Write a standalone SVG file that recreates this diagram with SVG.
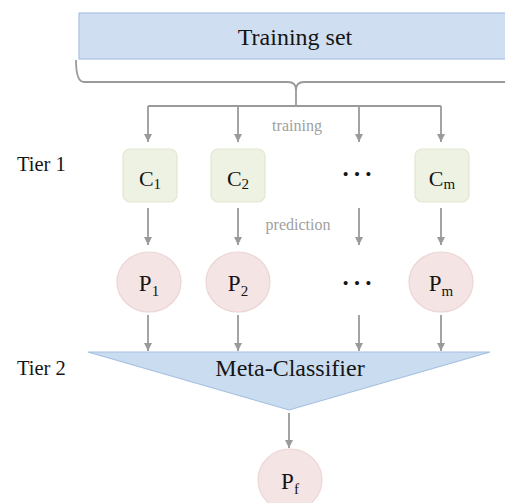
<svg xmlns="http://www.w3.org/2000/svg" width="505" height="503" viewBox="0 0 505 503">
<defs>
<marker id="ah" markerUnits="userSpaceOnUse" markerWidth="10" markerHeight="10" refX="8" refY="4" orient="auto">
<path d="M0,0 L8,4 L0,8 Z" fill="#9a9a9a"/>
</marker>
<style>
.t{font-family:"Liberation Serif","Times New Roman",serif;fill:#151515}
.g{font-family:"Liberation Serif","Times New Roman",serif;fill:#a0a0a0;font-size:16px}
.line{stroke:#9a9a9a;stroke-width:1.8;fill:none}
.arr{stroke:#9a9a9a;stroke-width:1.8;fill:none;marker-end:url(#ah)}
.cbox{fill:#eef2e3;stroke:#dfe7d0;stroke-width:1.2}
.pc{fill:#f4e4e4;stroke:#ecd5d5;stroke-width:1.2}
</style>
</defs>
<rect width="505" height="503" fill="#fff"/>

<g id="training-set">
<rect x="79" y="13" width="440" height="46" fill="#cfdff1" stroke="#a9c3e2" stroke-width="1.2"/>
<text class="t" x="295" y="45" font-size="24" text-anchor="middle">Training set</text>
</g>

<g id="tier-labels">
<text class="t" x="17" y="171" font-size="20.5">Tier 1</text>
<text class="t" x="17" y="375" font-size="20.5">Tier 2</text>
</g>

<g id="connectors">
<path class="line" d="M76,60 Q76,82 84,82 H288 Q296,82 296,90 Q296,82 304,82 H505"/>
<line class="line" x1="296" y1="88" x2="296" y2="106"/>
<line class="line" x1="148" y1="106" x2="441" y2="106"/>
<line class="arr" x1="148" y1="106" x2="148" y2="142"/>
<line class="arr" x1="238" y1="106" x2="238" y2="142"/>
<line class="arr" x1="359" y1="106" x2="359" y2="142"/>
<line class="arr" x1="441" y1="106" x2="441" y2="142"/>
<line class="arr" x1="148" y1="208" x2="148" y2="245"/>
<line class="arr" x1="238" y1="208" x2="238" y2="245"/>
<line class="arr" x1="359" y1="208" x2="359" y2="245"/>
<line class="arr" x1="441" y1="208" x2="441" y2="245"/>
<line class="arr" x1="148" y1="315" x2="148" y2="351"/>
<line class="arr" x1="238" y1="315" x2="238" y2="351"/>
<line class="arr" x1="359" y1="315" x2="359" y2="351"/>
<line class="arr" x1="441" y1="315" x2="441" y2="351"/>
<line class="arr" x1="289" y1="413" x2="289" y2="448"/>
<text class="g" x="297" y="131" text-anchor="middle">training</text>
<text class="g" x="298" y="230" text-anchor="middle">prediction</text>
</g>

<g id="C1">
<rect class="cbox" x="123" y="149" width="54" height="53" rx="7"/>
<text class="t" x="150" y="186" font-size="22" text-anchor="middle">C<tspan font-size="15" dy="3">1</tspan></text>
</g>
<g id="C2">
<rect class="cbox" x="211" y="149" width="54" height="53" rx="7"/>
<text class="t" x="238" y="186" font-size="22" text-anchor="middle">C<tspan font-size="15" dy="3">2</tspan></text>
</g>
<g id="dots1">
<text class="t" x="357" y="176" font-size="34" text-anchor="middle">…</text>
</g>
<g id="Cm">
<rect class="cbox" x="415" y="149" width="54" height="53" rx="7"/>
<text class="t" x="442" y="186" font-size="22" text-anchor="middle">C<tspan font-size="15" dy="3">m</tspan></text>
</g>

<g id="P1">
<ellipse class="pc" cx="149" cy="282" rx="32" ry="30"/>
<text class="t" x="149" y="291" font-size="23" text-anchor="middle">P<tspan font-size="15" dy="5">1</tspan></text>
</g>
<g id="P2">
<ellipse class="pc" cx="238" cy="282" rx="32" ry="30"/>
<text class="t" x="238" y="291" font-size="23" text-anchor="middle">P<tspan font-size="15" dy="5">2</tspan></text>
</g>
<g id="dots2">
<text class="t" x="357" y="285" font-size="34" text-anchor="middle">…</text>
</g>
<g id="Pm">
<ellipse class="pc" cx="441" cy="282" rx="32" ry="30"/>
<text class="t" x="441" y="291" font-size="23" text-anchor="middle">P<tspan font-size="15" dy="5">m</tspan></text>
</g>

<g id="meta-classifier">
<polygon points="88,352 490,352 289,410" fill="#c9dcf0" stroke="#a3bfe0" stroke-width="1.2"/>
<text class="t" x="290" y="376" font-size="24" text-anchor="middle">Meta-Classifier</text>
</g>

<g id="Pf">
<ellipse class="pc" cx="290" cy="480" rx="32" ry="31"/>
<text class="t" x="290" y="489" font-size="23" text-anchor="middle">P<tspan font-size="15" dy="5">f</tspan></text>
</g>
</svg>
